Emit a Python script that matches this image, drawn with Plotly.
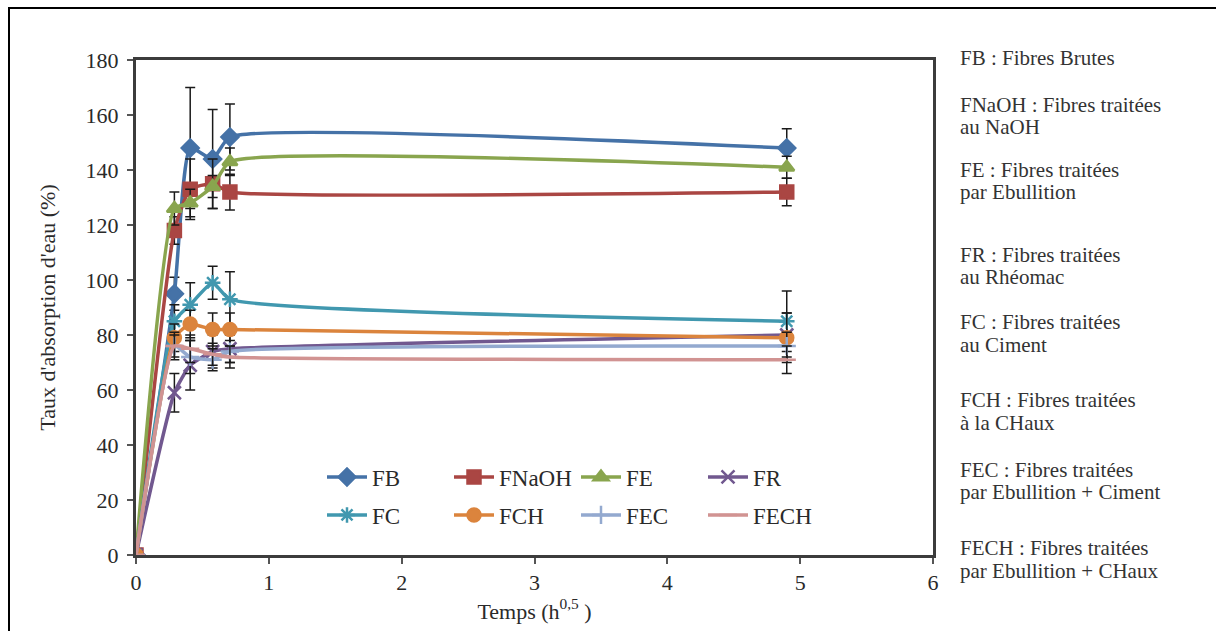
import plotly.graph_objects as go

# Time axis (square root of hours) and water uptake (%) per fibre treatment
temps = [0, 0.289, 0.408, 0.577, 0.707, 4.899]

fb = [0, 95, 148, 144, 152, 148]
fb_err = [0, 6, 22, 18, 12, 7]
fnaoh = [0, 118, 133, 135, 132, 132]
fnaoh_err = [0, 5, 11, 9, 6.5, 5]
fe = [0, 126, 128, 134, 143, 141]
fe_err = [0, 6, 5, 4, 5, 4]
fr = [0, 59, 69, 74, 75, 80]
fr_err = [0, 7, 9, 6, 5, 8]
fc = [0, 85, 91, 99, 93, 85]
fc_err = [0, 6, 8, 6, 10, 11]
fch = [0, 79, 84, 82, 82, 79]
fch_err = [0, 5, 5, 6, 6, 9]
fec = [0, 76, 72, 71, 74, 76]
fec_err = [0, 5, 6, 4, 4, 5]
fech = [0, 76, 75, 73, 72, 71]
fech_err = [0, 4, 5, 4, 4, 5]

series_names = ["FB", "FNaOH", "FE", "FR", "FC", "FCH", "FEC", "FECH"]

descriptions = [
    ("FB : Fibres Brutes", ""),
    ("FNaOH : Fibres traitées", "au NaOH"),
    ("FE : Fibres traitées", "par Ebullition"),
    ("FR : Fibres traitées", "au Rhéomac"),
    ("FC : Fibres traitées", "au Ciment"),
    ("FCH : Fibres traitées", "à la CHaux"),
    ("FEC : Fibres traitées", "par Ebullition + Ciment"),
    ("FECH : Fibres traitées", "par Ebullition + CHaux"),
]

values = [fb, fnaoh, fe, fr, fc, fch, fec, fech]
errors = [fb_err, fnaoh_err, fe_err, fr_err, fc_err, fch_err, fec_err, fech_err]
colors = ["#4572A7", "#AA4643", "#89A54E", "#71588F",
          "#4198AF", "#DB843D", "#93A9CF", "#D19392"]
symbols = ["diamond", "square", "triangle-up", "x-thin-open",
           "asterisk-open", "circle", "cross-thin-open", "line-ew-open"]
legend_ids = ["legend", "legend", "legend", "legend",
              "legend2", "legend2", "legend2", "legend2"]

FONT = "Liberation Serif"
W, H = 1216, 631
ML, MR, MT, MB = 136, 283, 60, 76
PW, PH = W - ML - MR, H - MT - MB


def px_x(px):
    return (px - ML) / PW


def px_y(py):
    return (H - MB - py) / PH


fig = go.Figure()

for name, y, e, c, s, lg in zip(series_names, values, errors, colors, symbols, legend_ids):
    fig.add_trace(go.Scatter(
        x=temps, y=y, name=name, mode="lines+markers",
        line=dict(color=c, width=3.5, shape="spline", smoothing=0.5),
        marker=dict(symbol=s, size=13, color=c, line=dict(color=c, width=2.5)),
        error_y=dict(type="data", array=e, visible=True, color="#1a1a1a",
                     thickness=1.5, width=5),
        legend=lg,
    ))

axis_common = dict(
    showline=True, linecolor="#3c3c3c", linewidth=3, mirror=True,
    showgrid=False, zeroline=False, ticks="outside", ticklen=6,
    tickcolor="#555", tickwidth=1.5,
    tickfont=dict(family=FONT, size=22, color="#2a2a2a"),
)

legend_common = dict(
    orientation="h", xanchor="left", yanchor="middle",
    bgcolor="rgba(0,0,0,0)", entrywidth=72, entrywidthmode="pixels",
    itemwidth=40,
    font=dict(family=FONT, size=23, color="#2a2a2a"),
)

fig.update_layout(
    width=W, height=H,
    margin=dict(l=ML, r=MR, t=MT, b=MB),
    paper_bgcolor="white", plot_bgcolor="white",
    font=dict(family=FONT, color="#2a2a2a"),
    xaxis=dict(range=[0, 6], dtick=1, tick0=0,
               title=dict(text="Temps (h<sup>0,5</sup> )",
                          font=dict(family=FONT, size=22), standoff=0),
               **axis_common),
    yaxis=dict(range=[0, 180], dtick=20, tick0=0, ticklabelstandoff=4,
               title=dict(text="Taux d'absorption d'eau (%)",
                          font=dict(family=FONT, size=22), standoff=24),
               **axis_common),
    legend=dict(x=px_x(322), y=px_y(477), **legend_common),
    legend2=dict(x=px_x(322), y=px_y(515), **legend_common),
    showlegend=True,
)

# Outer frame around the figure
fig.add_shape(type="rect", xref="paper", yref="paper",
              x0=px_x(9), x1=px_x(1240), y0=px_y(660), y1=px_y(8),
              line=dict(color="black", width=2), layer="below")

# Abbreviation key on the right-hand side
line_pos = [(58, None), (105, 127), (170, 192), (255, 277),
            (322, 345), (400, 423), (470, 492), (548, 571)]
for (first, second), (y1, y2) in zip(descriptions, line_pos):
    fig.add_annotation(text=first, xref="paper", yref="paper",
                       x=px_x(958), y=px_y(y1), xanchor="left", yanchor="middle",
                       showarrow=False, font=dict(family=FONT, size=21, color="#333"))
    if second:
        fig.add_annotation(text=second, xref="paper", yref="paper",
                           x=px_x(958), y=px_y(y2), xanchor="left", yanchor="middle",
                           showarrow=False, font=dict(family=FONT, size=21, color="#333"))

fig.write_html("out.html")
